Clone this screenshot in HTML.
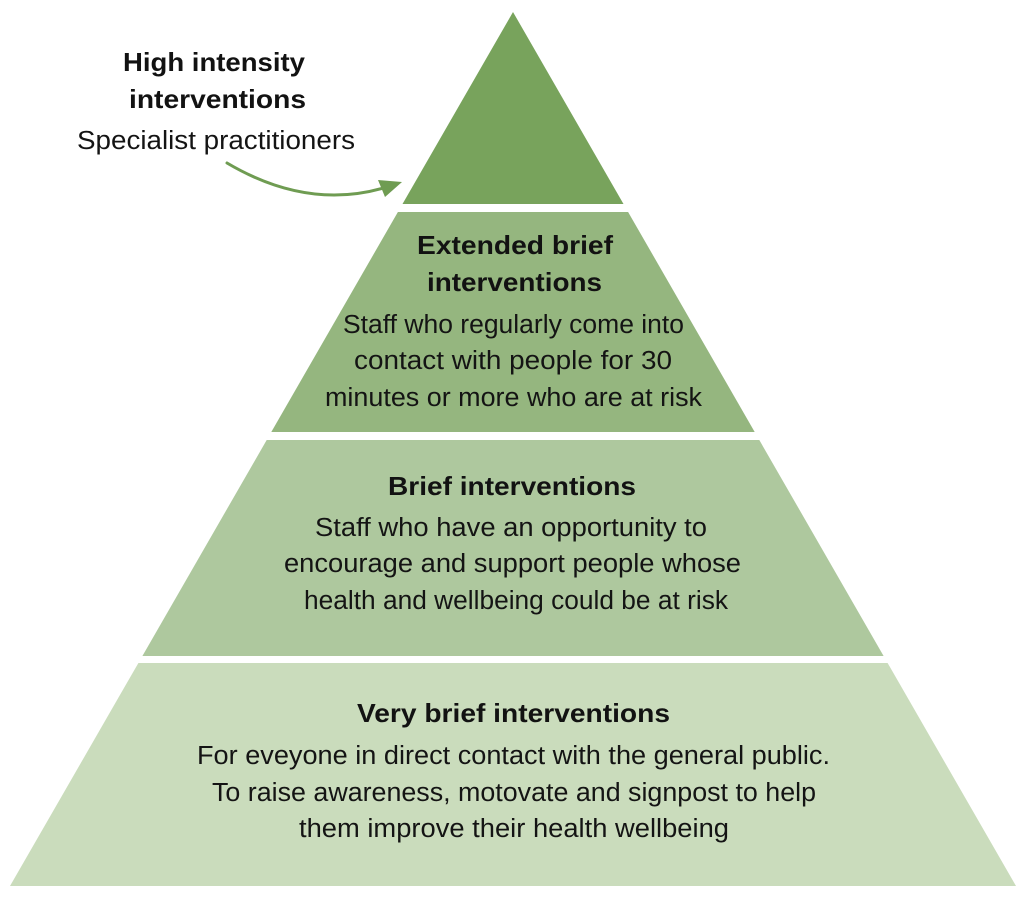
<!DOCTYPE html>
<html>
<head>
<meta charset="utf-8">
<style>
  html, body { margin: 0; padding: 0; background: #ffffff; }
  body { width: 1024px; height: 903px; overflow: hidden; }
  svg { display: block; }
  .b { font-family: "Liberation Sans", sans-serif; font-weight: bold; font-size: 26px; fill: #121212; }
  .r { font-family: "Liberation Sans", sans-serif; font-weight: normal; font-size: 25.5px; fill: #141414; }
</style>
</head>
<body>
<svg width="1024" height="903" viewBox="0 0 1024 903" xmlns="http://www.w3.org/2000/svg">
  <rect width="1024" height="903" fill="#ffffff"/>

  <!-- Pyramid tiers -->
  <polygon points="513,12 623.5,204 402.5,204" fill="#78a35c"/>
  <polygon points="397.9,212 628.1,212 754.7,432 271.3,432" fill="#95b67f"/>
  <polygon points="266.7,440 759.3,440 883.6,656 142.4,656" fill="#aec89e"/>
  <polygon points="138.4,663 887.6,663 1016,886 10,886" fill="#cadcbc"/>

  <!-- Arrow -->
  <path d="M227,163 Q310,212 390,186" fill="none" stroke="#6f9c52" stroke-width="3" stroke-linecap="round"/>
  <polygon points="402,182 378,180 385,197" fill="#6f9c52"/>

  <!-- Top label -->
  <text class="b" x="123" y="71" textLength="182" lengthAdjust="spacingAndGlyphs">High intensity</text>
  <text class="b" x="129" y="108" textLength="177" lengthAdjust="spacingAndGlyphs">interventions</text>
  <text class="r" x="77" y="149" textLength="278" lengthAdjust="spacingAndGlyphs">Specialist practitioners</text>

  <!-- Tier 2 -->
  <text class="b" x="417" y="254" textLength="196" lengthAdjust="spacingAndGlyphs">Extended brief</text>
  <text class="b" x="427" y="291" textLength="175" lengthAdjust="spacingAndGlyphs">interventions</text>
  <text class="r" x="343" y="333" textLength="341" lengthAdjust="spacingAndGlyphs">Staff who regularly come into</text>
  <text class="r" x="354" y="369" textLength="318" lengthAdjust="spacingAndGlyphs">contact with people for 30</text>
  <text class="r" x="325" y="406" textLength="377" lengthAdjust="spacingAndGlyphs">minutes or more who are at risk</text>

  <!-- Tier 3 -->
  <text class="b" x="388" y="495" textLength="248" lengthAdjust="spacingAndGlyphs">Brief interventions</text>
  <text class="r" x="315" y="536" textLength="392" lengthAdjust="spacingAndGlyphs">Staff who have an opportunity to</text>
  <text class="r" x="284" y="572" textLength="457" lengthAdjust="spacingAndGlyphs">encourage and support people whose</text>
  <text class="r" x="304" y="609" textLength="424" lengthAdjust="spacingAndGlyphs">health and wellbeing could be at risk</text>

  <!-- Tier 4 -->
  <text class="b" x="357" y="722" textLength="313" lengthAdjust="spacingAndGlyphs">Very brief interventions</text>
  <text class="r" x="197" y="764" textLength="633" lengthAdjust="spacingAndGlyphs">For eveyone in direct contact with the general public.</text>
  <text class="r" x="212" y="801" textLength="604" lengthAdjust="spacingAndGlyphs">To raise awareness, motovate and signpost to help</text>
  <text class="r" x="299" y="837" textLength="430" lengthAdjust="spacingAndGlyphs">them improve their health wellbeing</text>
</svg>
</body>
</html>
